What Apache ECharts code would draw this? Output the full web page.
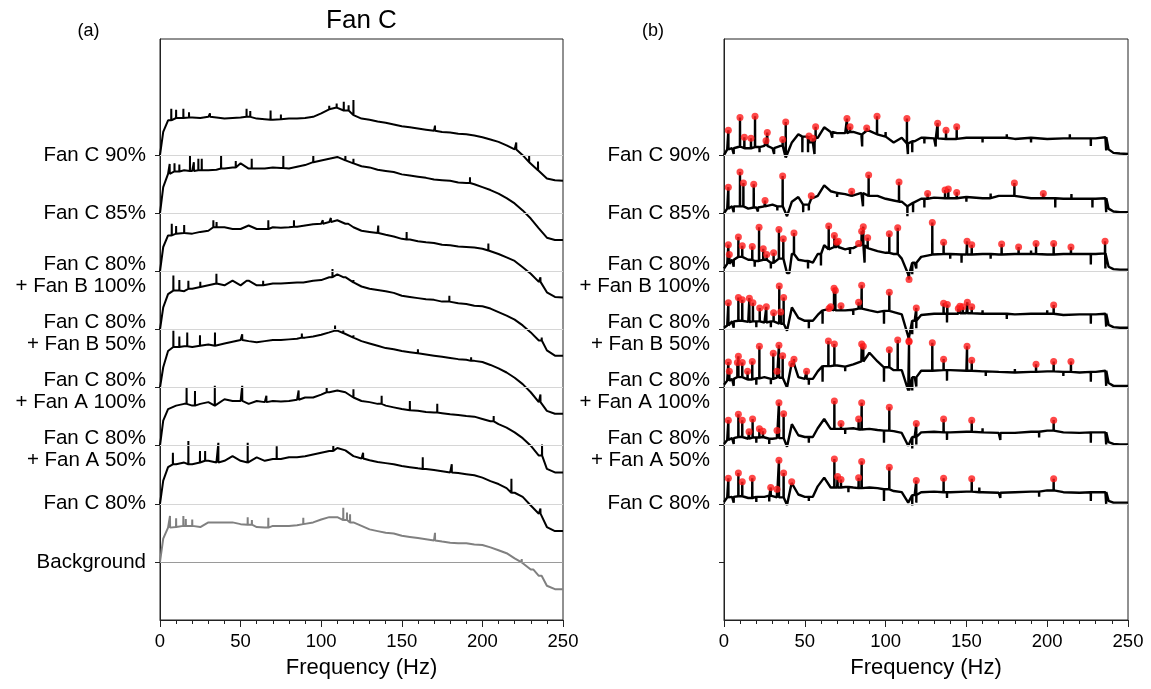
<!DOCTYPE html>
<html>
<head>
<meta charset="utf-8">
<script src="https://cdn.jsdelivr.net/npm/echarts@6/dist/echarts.min.js"></script>
<style>
html,body{margin:0;padding:0;background:#fff;}
#chart{width:1151px;height:689px;}
</style>
</head>
<body>
<div id="chart"></div>
<script>
// ---------------- DATA ----------------
const yLabels = ['Background', 'Fan C 80%', 'Fan C 80%\n+ Fan A 50%', 'Fan C 80%\n+ Fan A 100%',
  'Fan C 80%\n+ Fan B 50%', 'Fan C 80%\n+ Fan B 100%', 'Fan C 85%', 'Fan C 90%'];
const xTicks = [0, 50, 100, 150, 200, 250];

// Panel (a): frequency samples (Hz) and relative levels above each baseline
const freqsA = [0, 2, 5, 10, 15, 20, 25, 30, 35, 40, 45, 50, 55, 60, 65, 70, 75, 80, 85, 90, 95, 100,
  105, 110, 115, 120, 125, 130, 135, 140, 145, 150, 155, 160, 165, 170, 175, 180, 185, 190, 195, 200,
  205, 210, 215, 220, 225, 230, 235, 240, 245, 250];

const a90 = [0, 0.40, 0.60, 0.64, 0.64, 0.65, 0.64, 0.66, 0.65, 0.63, 0.64, 0.65, 0.66, 0.63, 0.62, 0.61, 0.62, 0.63, 0.63, 0.64, 0.66, 0.72,
  0.79, 0.82, 0.77, 0.69, 0.63, 0.61, 0.58, 0.56, 0.53, 0.50, 0.48, 0.46, 0.44, 0.42, 0.40, 0.39, 0.37, 0.36, 0.34, 0.31,
  0.27, 0.23, 0.17, 0.10, 0.00, -0.12, -0.26, -0.40, -0.43, -0.44];
const a85 = [0, 0.45, 0.68, 0.72, 0.74, 0.73, 0.74, 0.74, 0.75, 0.77, 0.79, 0.86, 0.77, 0.77, 0.77, 0.79, 0.78, 0.77, 0.80, 0.83, 0.88, 0.91,
  0.94, 0.97, 0.91, 0.86, 0.81, 0.79, 0.75, 0.73, 0.71, 0.67, 0.65, 0.63, 0.61, 0.58, 0.57, 0.56, 0.53, 0.52, 0.50, 0.45,
  0.40, 0.34, 0.26, 0.17, 0.05, -0.09, -0.26, -0.42, -0.46, -0.46];
const aB100 = [0, 0.42, 0.62, 0.65, 0.66, 0.65, 0.68, 0.70, 0.76, 0.76, 0.73, 0.73, 0.79, 0.73, 0.73, 0.76, 0.75, 0.76, 0.77, 0.79, 0.81, 0.82,
  0.85, 0.88, 0.82, 0.76, 0.70, 0.68, 0.66, 0.63, 0.60, 0.56, 0.55, 0.52, 0.50, 0.49, 0.46, 0.45, 0.43, 0.42, 0.41, 0.39,
  0.36, 0.30, 0.24, 0.18, 0.07, -0.04, -0.18, -0.36, -0.44, -0.45];
const aB50 = [0, 0.38, 0.61, 0.67, 0.66, 0.70, 0.73, 0.76, 0.79, 0.76, 0.84, 0.76, 0.84, 0.76, 0.76, 0.79, 0.79, 0.80, 0.81, 0.81, 0.84, 0.85,
  0.90, 0.95, 0.90, 0.81, 0.74, 0.70, 0.68, 0.66, 0.63, 0.58, 0.56, 0.54, 0.52, 0.51, 0.48, 0.48, 0.45, 0.44, 0.41, 0.40,
  0.36, 0.30, 0.24, 0.17, 0.07, -0.05, -0.19, -0.36, -0.45, -0.45];
const aA100 = [0, 0.35, 0.63, 0.70, 0.71, 0.70, 0.72, 0.74, 0.72, 0.76, 0.79, 0.82, 0.80, 0.78, 0.80, 0.82, 0.82, 0.83, 0.84, 0.86, 0.88, 0.91,
  0.95, 0.98, 0.94, 0.86, 0.80, 0.76, 0.72, 0.68, 0.66, 0.63, 0.61, 0.59, 0.57, 0.55, 0.53, 0.51, 0.49, 0.48, 0.46, 0.44,
  0.39, 0.33, 0.26, 0.17, 0.06, -0.08, -0.25, -0.40, -0.45, -0.45];
const aA50 = [0, 0.43, 0.63, 0.69, 0.72, 0.69, 0.72, 0.75, 0.69, 0.80, 0.77, 0.77, 0.72, 0.77, 0.75, 0.77, 0.76, 0.77, 0.79, 0.83, 0.83, 0.88,
  0.92, 0.95, 0.92, 0.83, 0.77, 0.75, 0.72, 0.69, 0.66, 0.63, 0.61, 0.60, 0.58, 0.57, 0.56, 0.54, 0.53, 0.51, 0.50, 0.46,
  0.42, 0.37, 0.31, 0.23, 0.13, 0.00, -0.17, -0.40, -0.46, -0.46];
const a80 = [0, 0.40, 0.63, 0.68, 0.71, 0.68, 0.71, 0.74, 0.71, 0.74, 0.82, 0.74, 0.71, 0.80, 0.74, 0.77, 0.77, 0.80, 0.80, 0.82, 0.85, 0.88,
  0.91, 0.96, 0.92, 0.82, 0.78, 0.75, 0.72, 0.70, 0.68, 0.65, 0.63, 0.61, 0.60, 0.58, 0.56, 0.54, 0.53, 0.51, 0.49, 0.45,
  0.39, 0.34, 0.27, 0.19, 0.12, -0.03, -0.17, -0.40, -0.47, -0.47];
const aBg = [0, 0.40, 0.59, 0.60, 0.62, 0.62, 0.60, 0.68, 0.68, 0.68, 0.68, 0.65, 0.64, 0.60, 0.59, 0.62, 0.62, 0.62, 0.63, 0.65, 0.68, 0.73,
  0.77, 0.77, 0.72, 0.68, 0.62, 0.56, 0.53, 0.50, 0.49, 0.45, 0.43, 0.41, 0.39, 0.37, 0.35, 0.33, 0.32, 0.32, 0.30, 0.29,
  0.25, 0.20, 0.15, 0.06, -0.01, -0.13, -0.24, -0.41, -0.47, -0.47];

// Panel (a) narrow peaks: [frequency, top level]
const sa90 = [[7, 0.80], [10, 0.78], [14.5, 0.80], [18, 0.74], [31, 0.72], [53.7, 0.80], [56, 0.76], [68.6, 0.77], [75, 0.70],
  [105, 0.85], [109.6, 0.89], [114, 0.92], [117, 0.86], [120, 0.95], [170.6, 0.51], [221, 0.22], [229, 0.0], [234.5, -0.11]];
const sa85 = [[6, 0.85], [9, 0.86], [12, 0.84], [18.6, 1.00], [21, 0.88], [23.8, 0.94], [25.9, 0.94], [37.9, 1.00], [47, 0.90],
  [56.9, 0.94], [76.5, 1.00], [95.1, 1.00], [115, 1.00], [120, 0.94], [192.3, 0.62]];
const saB100 = [[7.3, 0.82], [10, 0.78], [15, 0.80], [33.1, 0.88], [35.1, 0.85], [67.2, 0.88], [83.1, 0.88], [101, 0.88],
  [106, 0.92], [116.8, 0.85], [135.4, 0.79], [153, 0.68], [203.7, 0.48], [236, -0.10]];
const saB50 = [[8.3, 0.93], [12, 0.85], [17.6, 0.84], [25, 0.82], [35, 0.96], [53.8, 0.87], [64, 0.84], [89, 0.81],
  [107, 1.04], [113.7, 0.93], [120, 0.85], [179.5, 0.58], [236.8, -0.14]];
const saA100 = [[8.3, 0.98], [12, 0.88], [16.9, 0.95], [24.8, 0.90], [34.1, 0.95], [51, 0.92], [88, 0.93], [108.6, 1.07],
  [113.7, 0.98], [120, 0.90], [160, 0.66], [193, 0.52], [236, -0.12]];
const saA50 = [[16.5, 1.00], [21.7, 0.94], [34, 1.03], [51, 1.03], [66, 0.86], [86, 0.95], [103.4, 1.00], [120, 0.97],
  [137.5, 0.86], [155, 0.77], [172, 0.72], [207, 0.51], [237, 0.02]];
const sa80 = [[8, 0.88], [17.6, 1.08], [24.8, 0.91], [28, 0.91], [36.2, 1.05], [54.4, 1.05], [72.4, 0.99], [107.5, 1.00],
  [126, 0.88], [163, 0.80], [181, 0.68], [218, 0.43], [236, -0.08]];
const saBg = [[6.2, 0.79], [10, 0.75], [14.5, 0.79], [16, 0.74], [20, 0.73], [54.4, 0.77], [57, 0.72], [67.2, 0.76], [88.9, 0.76],
  [113.7, 0.93], [116, 0.85], [117.9, 0.82], [170.6, 0.50], [224.4, 0.05], [231.6, -0.10], [236.8, -0.26]];

// Panel (b): frequency samples and relative levels
const freqsB = [0, 2, 5, 10, 15, 20, 25, 30, 35, 39, 42, 46, 50, 55, 58, 62, 66, 70, 75, 80, 85, 90, 95, 100, 105, 110,
  114, 118, 122, 130, 140, 150, 160, 170, 180, 190, 200, 210, 220, 230, 236, 238, 241, 245, 250];
const b90 = [0.00, 0.10, 0.12, 0.15, 0.12, 0.14, 0.16, 0.12, 0.16, -0.04, 0.22, 0.36, 0.32, 0.22, 0.30, 0.48, 0.40, 0.38, 0.38, 0.40, 0.36, 0.42, 0.36, 0.32, 0.22, 0.30,
  0.20, 0.24, 0.30, 0.29, 0.28, 0.30, 0.30, 0.30, 0.28, 0.30, 0.28, 0.29, 0.29, 0.29, 0.31, 0.10, 0.04, 0.03, 0.02];
const b85 = [0.00, 0.08, 0.12, 0.12, 0.08, 0.10, 0.12, 0.15, 0.12, -0.05, 0.20, 0.28, 0.15, 0.25, 0.30, 0.48, 0.38, 0.35, 0.33, 0.30, 0.35, 0.30, 0.30, 0.25, 0.22, 0.20,
  0.12, 0.18, 0.25, 0.27, 0.26, 0.28, 0.26, 0.30, 0.30, 0.26, 0.26, 0.25, 0.25, 0.25, 0.26, 0.08, 0.03, 0.02, 0.02];
const bB100 = [0.05, 0.13, 0.20, 0.25, 0.20, 0.18, 0.20, 0.15, 0.22, -0.03, 0.30, 0.20, 0.18, 0.15, 0.30, 0.45, 0.38, 0.42, 0.38, 0.40, 0.45, 0.40, 0.35, 0.32, 0.30, 0.22,
  -0.05, 0.15, 0.25, 0.29, 0.30, 0.29, 0.30, 0.29, 0.30, 0.30, 0.29, 0.30, 0.30, 0.30, 0.31, 0.08, 0.04, 0.03, 0.03];
const bB50 = [0.03, 0.07, 0.14, 0.15, 0.13, 0.14, 0.12, 0.14, 0.10, -0.02, 0.38, 0.20, 0.15, 0.15, 0.25, 0.33, 0.35, 0.33, 0.33, 0.34, 0.36, 0.33, 0.30, 0.32, 0.30, 0.26,
  -0.12, 0.15, 0.25, 0.27, 0.27, 0.28, 0.27, 0.27, 0.26, 0.27, 0.27, 0.25, 0.26, 0.26, 0.27, 0.08, 0.04, 0.03, 0.03];
const bA100 = [0.05, 0.12, 0.15, 0.18, 0.14, 0.16, 0.18, 0.15, 0.17, 0.00, 0.41, 0.18, 0.15, 0.15, 0.28, 0.37, 0.37, 0.38, 0.36, 0.40, 0.45, 0.60, 0.45, 0.35, 0.30, 0.30,
  -0.05, 0.18, 0.29, 0.29, 0.30, 0.29, 0.28, 0.27, 0.26, 0.27, 0.28, 0.27, 0.26, 0.27, 0.29, 0.08, 0.03, 0.03, 0.03];
const bA50 = [0.03, 0.10, 0.13, 0.15, 0.12, 0.14, 0.15, 0.12, 0.13, -0.02, 0.37, 0.18, 0.15, 0.15, 0.30, 0.46, 0.29, 0.29, 0.29, 0.30, 0.28, 0.29, 0.27, 0.26, 0.25, 0.22,
  0.00, 0.15, 0.23, 0.24, 0.23, 0.24, 0.23, 0.22, 0.22, 0.24, 0.26, 0.23, 0.22, 0.23, 0.23, 0.06, 0.03, 0.02, 0.02];
const b80 = [0.03, 0.11, 0.12, 0.13, 0.10, 0.12, 0.12, 0.14, 0.11, -0.02, 0.36, 0.16, 0.12, 0.12, 0.30, 0.45, 0.28, 0.28, 0.29, 0.28, 0.27, 0.28, 0.27, 0.25, 0.22, 0.20,
  0.02, 0.15, 0.20, 0.21, 0.20, 0.21, 0.20, 0.19, 0.20, 0.21, 0.23, 0.20, 0.19, 0.20, 0.20, 0.05, 0.02, 0.02, 0.02];

// Panel (b) detected peaks (red dots): [frequency, level]
const p90 = [[2.7, 0.43], [9.9, 0.65], [12.6, 0.31], [16.7, 0.29], [19.2, 0.67], [26, 0.25], [26.8, 0.39], [36.3, 0.27], [38.2, 0.57],
  [52.6, 0.33], [54.9, 0.29], [56.7, 0.49], [76.1, 0.63], [78, 0.49], [88.3, 0.47], [94.7, 0.67], [113.2, 0.63], [132.2, 0.55],
  [137.4, 0.43], [144, 0.49]];
const p85 = [[2.7, 0.45], [9.9, 0.71], [12.0, 0.52], [18.4, 0.50], [25.4, 0.22], [36.3, 0.64], [54.0, 0.30], [79.0, 0.38],
  [89.5, 0.66], [108.3, 0.54], [126.0, 0.34], [136.8, 0.40], [138.8, 0.42], [144.0, 0.36], [179.7, 0.52], [197.6, 0.34]];
const pB100 = [[2.7, 0.46], [3.3, 0.29], [8.9, 0.59], [11.3, 0.44], [17.5, 0.43], [21.7, 0.76], [24.3, 0.39], [26.4, 0.29],
  [30.7, 0.32], [34.0, 0.72], [36.7, 0.56], [43.3, 0.66], [64.8, 0.78], [68.3, 0.62], [69.7, 0.50], [70.7, 0.52], [83.3, 0.48],
  [85.2, 0.69], [86.2, 0.77], [88.9, 0.58], [102.3, 0.65], [107.5, 0.75], [114.5, -0.14], [128.9, 0.84], [135.9, 0.50],
  [150.4, 0.52], [153.3, 0.46], [171.8, 0.47], [182.3, 0.42], [193.1, 0.48], [204.0, 0.48], [214.7, 0.42], [235.8, 0.52]];
const pB50 = [[2.7, 0.46], [8.9, 0.55], [11.3, 0.51], [15.7, 0.54], [17.9, 0.46], [22.1, 0.37], [26.2, 0.39], [30.7, 0.29],
  [34.2, 0.75], [35.1, 0.30], [36.9, 0.55], [65.0, 0.36], [66.0, 0.39], [68.1, 0.71], [68.9, 0.67], [72.4, 0.41], [83.3, 0.47],
  [85.2, 0.76], [102.3, 0.64], [114.5, -0.20], [119.0, 0.37], [135.9, 0.45], [138.2, 0.43], [145.0, 0.36], [146.0, 0.40],
  [147.8, 0.39], [150.6, 0.47], [153.3, 0.39], [204.0, 0.42]];
const pA100 = [[2.7, 0.44], [3.3, 0.28], [8.3, 0.43], [8.9, 0.54], [11.3, 0.43], [14.6, 0.28], [17.5, 0.45], [21.9, 0.71],
  [30.5, 0.59], [32.8, 0.28], [34.0, 0.73], [36.3, 0.55], [41.9, 0.41], [43.3, 0.49], [51.1, 0.28], [64.6, 0.80], [68.3, 0.75],
  [85.2, 0.75], [86.2, 0.71], [102.3, 0.65], [107.5, 0.82], [114.5, 0.79], [128.9, 0.77], [135.9, 0.49], [150.4, 0.71],
  [153.3, 0.47], [193.1, 0.40], [204.0, 0.45], [214.7, 0.45]];
const pA50 = [[2.7, 0.44], [8.9, 0.54], [11.3, 0.44], [15.5, 0.24], [17.7, 0.46], [21.9, 0.29], [24.1, 0.25], [32.8, 0.26],
  [34.0, 0.74], [36.9, 0.55], [68.3, 0.77], [72.4, 0.38], [83.3, 0.46], [85.2, 0.74], [102.3, 0.66], [119.0, 0.38],
  [135.9, 0.46], [153.3, 0.44], [204.0, 0.44]];
const p80 = [[2.7, 0.44], [8.9, 0.53], [11.3, 0.38], [17.5, 0.44], [28.9, 0.28], [32.8, 0.25], [34.0, 0.75], [36.9, 0.53],
  [41.9, 0.38], [68.3, 0.77], [70.3, 0.47], [72.4, 0.42], [83.3, 0.45], [85.2, 0.73], [102.3, 0.63], [119.0, 0.40],
  [135.9, 0.44], [153.3, 0.43], [204.0, 0.43]];

// Panel (b) narrow dips and small noise spikes: [frequency, level]
const d90 = [[6, 0.02], [22, 0.05], [31, 0.02], [48.5, 0.05], [52, 0.05], [56, 0.02], [67, 0.30], [85.5, 0.15], [100, 0.40], [113.8, 0.02],
  [116.5, 0.05], [124, 0.20], [131, 0.15], [160, 0.22], [175, 0.36], [190, 0.22], [214, 0.36], [227, 0.16], [236.5, 0.08]];
const d85 = [[6, 0.02], [21, 0.03], [33, 0.05], [49, 0.02], [52.5, 0.05], [70, 0.28], [86, 0.12], [113.5, -0.05], [117, 0.02], [124, 0.10],
  [150, 0.20], [165, 0.34], [205, 0.10], [215, 0.33], [228, 0.10], [236.5, 0.02]];
const dB100 = [[6, 0.08], [19, 0.08], [29, 0.05], [40.5, -0.05], [52, 0.05], [60, 0.10], [78, 0.30], [87, 0.15], [116.5, -0.05], [119, 0.05],
  [140, 0.22], [147, 0.15], [165, 0.22], [190, 0.36], [227, 0.12], [236, 0.05]];
const dB50 = [[6, 0.03], [20, 0.04], [29, 0.04], [40, -0.03], [52.5, 0.02], [61, 0.10], [80, 0.25], [99, 0.10], [116.5, -0.08], [119, 0.02],
  [138, 0.12], [160, 0.33], [175, 0.18], [200, 0.33], [227, 0.10], [236.5, 0.05]];
const dA100 = [[6, 0.03], [20, 0.05], [29, 0.06], [40, -0.03], [52.5, 0.05], [61, 0.10], [75, 0.28], [99, 0.10], [116.5, -0.05], [119, 0.02],
  [138, 0.12], [162, 0.20], [180, 0.32], [210, 0.20], [227, 0.10], [236.5, 0.03]];
const dA50 = [[6, 0.03], [20, 0.05], [28, 0.03], [40, -0.03], [52.5, 0.05], [75, 0.20], [99, 0.05], [116.5, -0.05], [119, 0.02],
  [138, 0.10], [160, 0.30], [171, 0.10], [195, 0.14], [227, 0.05], [236.5, 0.02]];
const d80 = [[6, 0.02], [20, 0.03], [28, 0.04], [40, -0.03], [52.5, 0.05], [77, 0.20], [99, 0.05], [116.5, -0.03], [119, 0.02],
  [138, 0.10], [158, 0.28], [171, 0.10], [195, 0.12], [227, 0.05], [236.5, 0.00]];

// ---------------- BUILD ----------------
function nearestIdx(freqs, f) {
  let best = 0;
  for (let i = 1; i < freqs.length; i++) if (Math.abs(freqs[i] - f) < Math.abs(freqs[best] - f)) best = i;
  return best;
}
function buildLine(freqs, base, peaks, offset) {
  const pts = freqs.map((f, i) => [f, base[i] + offset]);
  peaks.forEach(([f, top]) => {
    const foot = base[nearestIdx(freqs, f)] + offset;
    pts.push([f - 0.06, foot], [f, top + offset], [f + 0.06, foot]);
  });
  pts.sort((a, b) => a[0] - b[0]);
  return pts;
}

const leftSets = [
  [aBg, saBg, 0], [a80, sa80, 1], [aA50, saA50, 2], [aA100, saA100, 3],
  [aB50, saB50, 4], [aB100, saB100, 5], [a85, sa85, 6], [a90, sa90, 7]
];
const rightSets = [
  [b80, p80, d80, 1], [bA50, pA50, dA50, 2], [bA100, pA100, dA100, 3],
  [bB50, pB50, dB50, 4], [bB100, pB100, dB100, 5], [b85, p85, d85, 6], [b90, p90, d90, 7]
];

const FONT = 'Liberation Sans';
const series = [];

// baselines (grey rules)
series.push({
  type: 'line', xAxisIndex: 0, yAxisIndex: 0, data: [], silent: true,
  markLine: {
    silent: true, symbol: ['none', 'none'], label: { show: false }, animation: false,
    data: [0, 1, 2, 3, 4, 5, 6, 7].map(v => ({ yAxis: v, lineStyle: { color: v === 0 ? '#9a9a9a' : '#d6d6d6', width: 1, type: 'solid' } }))
  }
});
series.push({
  type: 'line', xAxisIndex: 1, yAxisIndex: 1, data: [], silent: true,
  markLine: {
    silent: true, symbol: ['none', 'none'], label: { show: false }, animation: false,
    data: [1, 2, 3, 4, 5, 6, 7].map(v => ({ yAxis: v, lineStyle: { color: '#d6d6d6', width: 1, type: 'solid' } }))
  }
});

leftSets.forEach(([base, peaks, off]) => {
  series.push({
    type: 'line', xAxisIndex: 0, yAxisIndex: 0, showSymbol: false, symbol: 'none',
    data: buildLine(freqsA, base, peaks, off),
    lineStyle: { color: off === 0 ? '#808080' : '#000', width: 2 }, z: 3
  });
});
rightSets.forEach(([base, peaks, dips, off]) => {
  series.push({
    type: 'line', xAxisIndex: 1, yAxisIndex: 1, showSymbol: false, symbol: 'none',
    data: buildLine(freqsB, base, peaks.concat(dips), off),
    lineStyle: { color: '#000', width: 2.4 }, z: 3
  });
  series.push({
    type: 'scatter', xAxisIndex: 1, yAxisIndex: 1, symbol: 'circle', symbolSize: 7,
    itemStyle: { color: '#ff1a1a' },
    data: peaks.map(([f, v]) => [f, v + off]), z: 5
  });
});

function xAxisCfg(idx) {
  return {
    type: 'value', gridIndex: idx, min: 0, max: 250, interval: 50,
    name: 'Frequency (Hz)', nameLocation: 'middle', nameGap: 37,
    nameTextStyle: { fontFamily: FONT, fontSize: 22, color: '#000' },
    axisLine: { show: true, onZero: false, lineStyle: { color: '#222', width: 1 } },
    axisTick: { show: true, inside: false, length: 7, lineStyle: { color: '#222' } },
    minorTick: { show: true, splitNumber: 5, length: 4, lineStyle: { color: '#222' } },
    axisLabel: { fontFamily: FONT, fontSize: 18.5, color: '#000', margin: 12, customValues: xTicks },
    splitLine: { show: false }
  };
}
function yAxisCfg(idx, labelVals) {
  return {
    type: 'value', gridIndex: idx, min: -1, max: 9, interval: 1,
    axisLine: { show: true, lineStyle: { color: '#222', width: 1 } },
    axisTick: { show: true, inside: false, length: 5, customValues: [0, 1, 2, 3, 4, 5, 6, 7], lineStyle: { color: '#222' } },
    axisLabel: {
      fontFamily: FONT, fontSize: 20.5, color: '#000', margin: 14,
      customValues: labelVals,
      formatter: v => {
        const t = yLabels[Math.round(v)] || '';
        if (!t) return '';
        const parts = t.split('\n');
        if (parts.length === 1) return '{t|' + t + '}';
        return '{s| }\n{t|' + parts[0] + '}\n{t|' + parts[1] + '}';
      },
      rich: {
        t: { fontFamily: FONT, fontSize: 20.5, color: '#000', lineHeight: 22, align: 'right' },
        s: { fontSize: 1, lineHeight: 8, align: 'right' }
      }
    },
    splitLine: { show: false }
  };
}

const chart = echarts.init(document.getElementById('chart'), null, { renderer: 'canvas' });
chart.setOption({
  animation: false,
  backgroundColor: '#fff',
  grid: [
    { left: 160, top: 39, width: 403, height: 581, show: true, borderColor: '#222', borderWidth: 1, backgroundColor: 'transparent' },
    { left: 724, top: 39, width: 404, height: 581, show: true, borderColor: '#222', borderWidth: 1, backgroundColor: 'transparent' }
  ],
  xAxis: [xAxisCfg(0), xAxisCfg(1)],
  yAxis: [yAxisCfg(0, [0, 1, 2, 3, 4, 5, 6, 7]), yAxisCfg(1, [1, 2, 3, 4, 5, 6, 7])],
  graphic: [
    { type: 'text', x: 361.5, y: 21, style: { text: 'Fan C', font: '26px "Liberation Sans"', fill: '#000', align: 'center', verticalAlign: 'middle' } },
    { type: 'text', x: 88.5, y: 31, style: { text: '(a)', font: '18px "Liberation Sans"', fill: '#000', align: 'center', verticalAlign: 'middle' } },
    { type: 'text', x: 653, y: 31, style: { text: '(b)', font: '18px "Liberation Sans"', fill: '#000', align: 'center', verticalAlign: 'middle' } }
  ],
  series: series
});
</script>
</body>
</html>
